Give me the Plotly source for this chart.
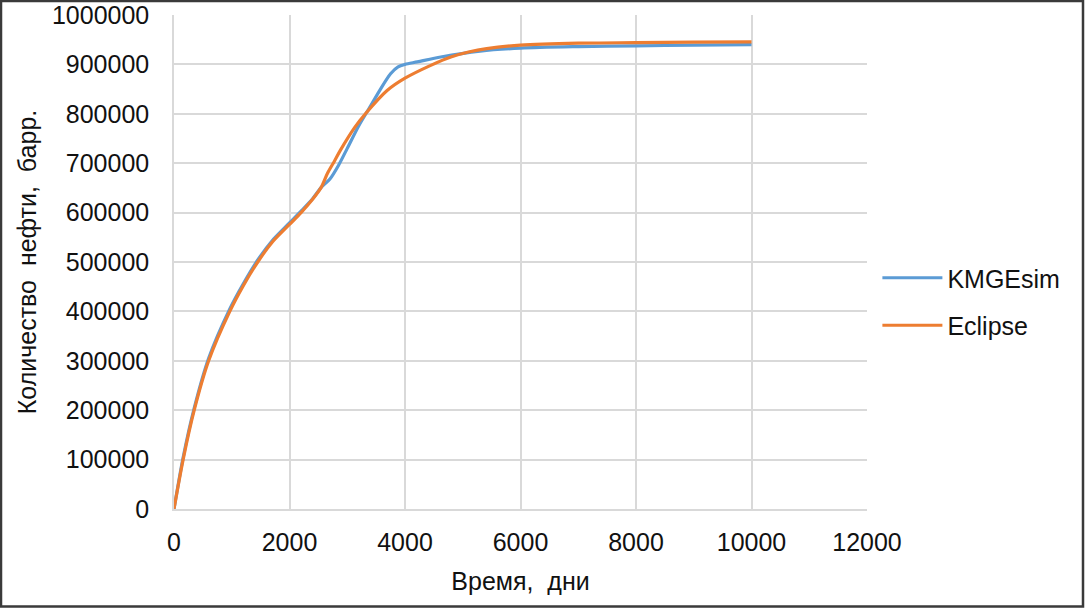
import plotly.graph_objects as go

# KMGEsim (blue) and Eclipse (orange)
kmge_days = [0, 158, 350, 600, 966, 1200, 1450, 1700, 2000, 2200, 2400, 2549, 2700, 2850,
             3000, 3200, 3400, 3550, 3750, 3880, 4000, 4214, 4620, 5300, 6000, 7000, 8000,
             9000, 10000]
kmge_oil = [0, 104000, 204000, 305000, 405000, 456000, 504000, 543000, 579000, 603000,
            628000, 651000, 668000, 696000, 730000, 776000, 815000, 845000, 881000, 895000,
            900000, 905000, 915000, 927000, 933000, 936000, 937500, 939000, 940000]

ecl_days = [0, 158, 350, 600, 966, 1200, 1450, 1700, 2000, 2200, 2400, 2549, 2660, 2782,
            2880, 3133, 3315, 3690, 4000, 4445, 4794, 5100, 5415, 6000, 7000, 8000, 9000,
            10000]
ecl_oil = [0, 100000, 200000, 300000, 400000, 452000, 500000, 540000, 576000, 600000,
           627000, 651000, 680000, 705000, 726000, 773000, 800000, 847000, 872000, 898000,
           915000, 925000, 932000, 939000, 943000, 944000, 945000, 945500]

x_ticks = [0, 2000, 4000, 6000, 8000, 10000, 12000]
y_ticks = [0, 100000, 200000, 300000, 400000, 500000, 600000, 700000, 800000, 900000, 1000000]

FONT = "Liberation Sans, Arial, sans-serif"
GRID = "#d9d9d9"
TXT = "#111111"

fig = go.Figure()

fig.add_trace(
	go.Scatter(
		x=kmge_days,
		y=kmge_oil,
		name="KMGEsim",
		legendgroup="kmge",
		mode="lines",
		line_shape="spline",
		line=dict(color="#5b9bd5", width=3.2, smoothing=0.8),
	)
)

fig.add_trace(
	go.Scatter(
		x=ecl_days,
		y=ecl_oil,
		name="Eclipse",
		legendgroup="ecl",
		mode="lines",
		line_shape="spline",
		line=dict(color="#ed7d31", width=3.2, smoothing=0.8),
	)
)

# ----------------------------------------------------------------------------------------------
# axes

fig.update_xaxes(
	range=[0, 12000],
	tickvals=x_ticks,
	ticktext=[str(v) for v in x_ticks],
	showgrid=True, gridcolor=GRID, gridwidth=1.5,
	showline=True, linecolor=GRID, linewidth=1.5,
	zeroline=False,
	ticks="",
	automargin=False,
	ticklabelstandoff=10,
	tickfont=dict(family=FONT, size=25, color=TXT),
	title=dict(text="Время,  дни", font=dict(family=FONT, size=25, color=TXT), standoff=18),
)

fig.update_yaxes(
	range=[0, 1000000],
	tickvals=y_ticks,
	ticktext=[str(v) for v in y_ticks],
	showgrid=True, gridcolor=GRID, gridwidth=1.5,
	showline=True, linecolor=GRID, linewidth=1.5,
	zeroline=False,
	ticks="",
	automargin=False,
	ticklabelstandoff=18,
	tickfont=dict(family=FONT, size=25, color=TXT),
	title=dict(text="Количество\u00a0 нефти,\u00a0 барр.", font=dict(family=FONT, size=25, color=TXT), standoff=8),
)

fig.update_layout(
	width=1085,
	height=608,
	margin=dict(l=174, r=218, t=15, b=99, autoexpand=False),
	paper_bgcolor="white",
	plot_bgcolor="white",
	showlegend=True,
	legend=dict(
		x=1.015, y=0.42, xanchor="left", yanchor="middle",
		font=dict(family=FONT, size=25, color=TXT),
		itemwidth=60,
		tracegroupgap=12,
		bgcolor="rgba(0,0,0,0)",
	),
	# outer frame round the whole picture
	shapes=[
		dict(
			type="rect", xref="paper", yref="paper",
			x0=(1 - 174) / 693, x1=(1083 - 174) / 693,
			y0=(509 - 606.5) / 494, y1=(509 - 1) / 494,
			line=dict(color="#3a3a3a", width=2.5),
			fillcolor="rgba(0,0,0,0)",
			layer="above",
		)
	],
)

fig.write_html(
	"out.html",
	config={"displayModeBar": False},
	post_script="document.body.style.margin='0';",
)
